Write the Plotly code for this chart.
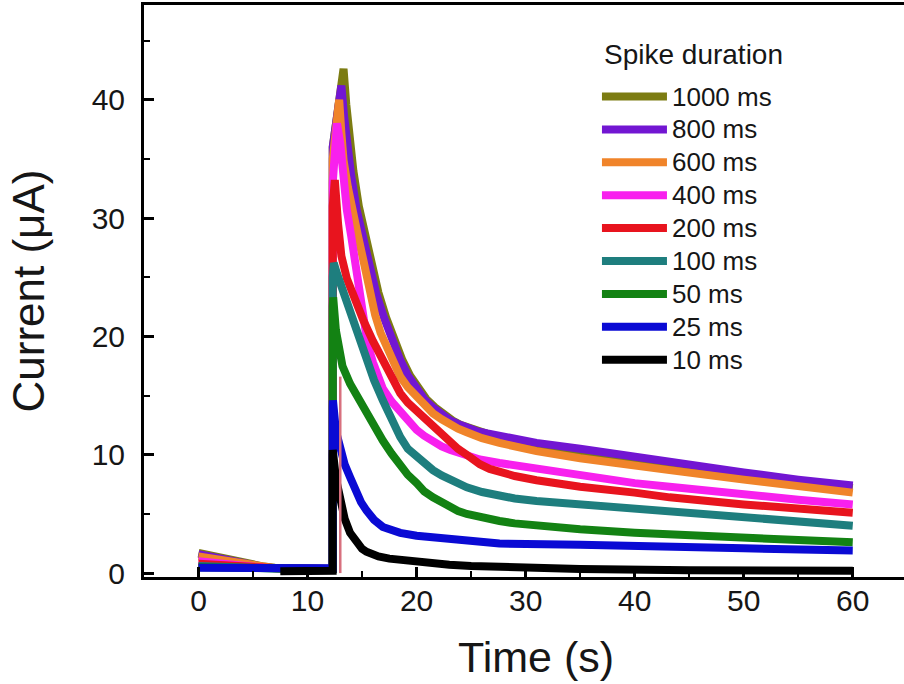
import plotly.graph_objects as go

# ---- data ----
labels = ["1000 ms", "800 ms", "600 ms", "400 ms", "200 ms", "100 ms", "50 ms", "25 ms", "10 ms"]
colors = ["#7c7c12", "#7216d2", "#f0842a", "#f820ee", "#e8141e", "#1e7e7e", "#138213", "#0a0ad4", "#000000"]

t_1000 = [0, 1, 2, 3, 4, 5, 6, 7, 8, 10, 12.3, 12.31, 13.3, 13.55, 13.8, 14.2, 14.7, 15.3, 15.9, 16.5, 17.2, 17.9, 18.7, 19.4, 20.2, 20.9, 21.7, 22.5, 23.3, 24.1, 25, 26.5, 28, 31, 35, 40, 45, 50, 55, 60]
i_1000 = [1.7, 1.5, 1.25, 1.05, 0.85, 0.7, 0.55, 0.45, 0.4, 0.35, 0.35, 36, 42.6, 39.6, 37.0, 34.0, 31.0, 28.3, 26.0, 23.7, 21.6, 19.7, 18.0, 16.7, 15.5, 14.7, 14.0, 13.4, 12.9, 12.5, 12.2, 11.7, 11.3, 10.8, 10.2, 9.5, 8.9, 8.3, 7.7, 7.2]

t_800 = [0, 1, 2, 3, 4, 5, 6, 7, 8, 10, 12.3, 12.31, 13.1, 13.35, 13.6, 14.0, 14.5, 15.1, 15.7, 16.3, 17.0, 17.7, 18.5, 19.2, 20.0, 20.7, 21.5, 22.3, 23.1, 23.8, 24.6, 25.5, 26.5, 28, 31, 35, 40, 45, 50, 55, 60]
i_800 = [1.6, 1.4, 1.2, 1.0, 0.8, 0.65, 0.5, 0.42, 0.38, 0.35, 0.35, 36, 41.2, 38.6, 36.3, 33.6, 30.7, 28.1, 25.9, 23.6, 21.6, 19.7, 18.0, 16.7, 15.5, 14.7, 14.0, 13.4, 12.9, 12.6, 12.3, 12.0, 11.8, 11.5, 11.0, 10.5, 9.8, 9.1, 8.5, 7.9, 7.4]

t_600 = [0, 1, 2, 3, 4, 5, 6, 7, 8, 10, 12.3, 12.31, 12.9, 13.1, 13.3, 13.7, 14.2, 14.6, 15.1, 15.6, 16.2, 16.7, 17.3, 17.9, 18.5, 19.2, 20, 20.7, 21.5, 22.3, 23, 23.8, 24.6, 25.3, 26, 27.6, 31, 35, 40, 43.2, 50, 55, 60]
i_600 = [1.4, 1.25, 1.05, 0.9, 0.75, 0.6, 0.5, 0.42, 0.38, 0.35, 0.35, 35, 40.0, 37.2, 34.9, 32.6, 30.7, 28.6, 26.5, 24.2, 21.8, 20.3, 19.0, 17.7, 16.6, 15.7, 14.9, 14.2, 13.5, 13.0, 12.6, 12.2, 11.9, 11.6, 11.4, 11.0, 10.3, 9.7, 9.0, 8.7, 7.9, 7.3, 6.8]

t_400 = [0, 2, 4, 6, 8, 10, 12.3, 12.31, 12.7, 13.0, 13.3, 13.6, 14.0, 14.3, 14.7, 15.1, 15.5, 16.0, 16.5, 16.9, 17.7, 18.5, 19.2, 20, 20.7, 21.5, 22.3, 23.1, 24.4, 25.8, 27.6, 31, 35, 40, 43.2, 50, 55, 60]
i_400 = [1.0, 0.8, 0.6, 0.45, 0.38, 0.35, 0.35, 33, 38.0, 36.3, 33.4, 30.7, 28.5, 26.5, 24.0, 21.6, 19.4, 17.8, 16.5, 15.6, 14.5, 13.6, 12.8, 12.1, 11.6, 11.1, 10.7, 10.4, 10.0, 9.6, 9.3, 8.8, 8.2, 7.6, 7.3, 6.6, 6.2, 5.8]

t_200 = [0, 2, 4, 6, 8, 10, 12.3, 12.31, 12.5, 12.8, 13.1, 13.6, 14.1, 14.6, 15.1, 16.0, 16.9, 17.7, 18.5, 19.2, 20, 20.7, 21.5, 22.3, 23.1, 23.8, 24.6, 25.3, 25.8, 26.7, 27.6, 29, 31, 35, 40, 43.2, 50, 55, 60]
i_200 = [0.8, 0.65, 0.5, 0.4, 0.36, 0.35, 0.35, 31, 33.2, 29.5, 26.8, 24.9, 23.6, 22.5, 21.4, 19.6, 18.0, 16.5, 15.2, 14.4, 13.7, 13.0, 12.3, 11.6, 11.0, 10.5, 10.0, 9.5, 9.2, 8.8, 8.5, 8.2, 7.85, 7.3, 6.8, 6.4, 5.8, 5.4, 5.1]

t_100 = [0, 2, 4, 6, 8, 10, 12.3, 12.31, 12.4, 12.7, 13.0, 13.3, 13.9, 14.5, 15.0, 15.4, 16.1, 16.9, 17.7, 18.5, 19.2, 20, 20.7, 21.5, 22.3, 23, 23.8, 24.6, 26, 27.6, 29, 31, 35, 40, 43.2, 50, 55, 60]
i_100 = [0.6, 0.5, 0.42, 0.38, 0.35, 0.35, 0.35, 25, 26.2, 25.3, 24.5, 23.6, 21.9, 20.3, 19.1, 18.0, 16.3, 14.6, 13.0, 11.5, 10.5, 9.8, 9.2, 8.7, 8.25, 7.9, 7.55, 7.25, 6.85, 6.5, 6.3, 6.1, 5.8, 5.4, 5.1, 4.7, 4.3, 4.0]

t_50 = [0, 2, 4, 6, 8, 10, 12.3, 12.31, 12.35, 12.6, 12.9, 13.2, 13.9, 14.6, 15.4, 16.1, 16.9, 17.7, 18.5, 19.2, 20, 20.7, 21.5, 22.3, 23, 23.8, 24.6, 25.8, 27.6, 29, 31, 35, 40, 43.2, 50, 55, 60]
i_50 = [0.5, 0.45, 0.4, 0.37, 0.35, 0.35, 0.35, 22.5, 23.3, 20.5, 18.6, 17.5, 16.0, 14.8, 13.6, 12.4, 11.2, 10.1, 9.1, 8.3, 7.6, 6.9, 6.4, 5.95, 5.6, 5.25, 5.0, 4.7, 4.4, 4.2, 4.0, 3.7, 3.4, 3.3, 3.0, 2.8, 2.6]

t_25 = [0, 2, 4, 6, 8, 10, 12.3, 12.31, 12.33, 12.6, 13.0, 13.4, 13.9, 14.4, 14.9, 15.4, 16.1, 16.9, 17.7, 18.5, 20, 21.5, 23.5, 25.8, 27.6, 35, 43.2, 50, 60]
i_25 = [0.45, 0.42, 0.4, 0.4, 0.4, 0.4, 0.4, 14.0, 14.6, 12.0, 10.4, 9.2, 8.1, 7.0, 6.0, 5.3, 4.5, 3.9, 3.6, 3.4, 3.15, 3.0, 2.8, 2.6, 2.5, 2.4, 2.3, 2.1, 1.9]

t_10 = [7.5, 9, 10, 11, 12.3, 12.301, 12.31, 12.6, 13.0, 13.4, 13.9, 14.5, 15.0, 15.4, 16.0, 16.5, 17.5, 18.5, 20, 21.5, 23, 25, 27.6, 31, 35, 45, 60]
i_10 = [0.15, 0.15, 0.15, 0.15, 0.2, 10.0, 10.4, 8.0, 6.2, 4.6, 3.4, 2.5, 2.05, 1.8, 1.55, 1.4, 1.22, 1.1, 0.95, 0.8, 0.7, 0.6, 0.5, 0.42, 0.35, 0.25, 0.2]

# thin trace visible at t ~ 13 s in the reference (no legend entry)
t_thin = [13.0, 13.0]
i_thin = [0.0, 16.6]

series_t = [t_1000, t_800, t_600, t_400, t_200, t_100, t_50, t_25, t_10]
series_i = [i_1000, i_800, i_600, i_400, i_200, i_100, i_50, i_25, i_10]

x_ticks = [0, 10, 20, 30, 40, 50, 60]
y_ticks = [0, 10, 20, 30, 40]

FONT = "Arial, 'Liberation Sans', sans-serif"
TXT = "#161616"

fig = go.Figure()
for lab, col, tt, ii in zip(labels, colors, series_t, series_i):
    fig.add_trace(go.Scatter(
        x=tt, y=ii, mode="lines",
        name='<span style="font-size:26px">' + lab + '</span>',
        line=dict(color=col, width=8)))

fig.add_trace(go.Scatter(x=t_thin, y=i_thin, mode="lines", showlegend=False,
                         line=dict(color="#d8707e", width=2.5), hoverinfo="skip"))

axis_common = dict(
    showgrid=False, zeroline=False, showline=True, linecolor="black", linewidth=3,
    ticks="inside", ticklen=10, tickwidth=2.5, tickcolor="black",
    tickfont=dict(family=FONT, size=30, color=TXT),
    minor=dict(ticks="inside", ticklen=6, tickwidth=2, tickcolor="black", dtick=5),
)

fig.update_layout(
    width=904, height=684,
    margin=dict(l=144, r=0, t=5, b=107),
    plot_bgcolor="white", paper_bgcolor="white",
    font=dict(family=FONT, color=TXT),
    xaxis=dict(range=[-5, 64.7], tickvals=x_ticks, mirror=True,
               ticklabelstandoff=-5, **axis_common),
    yaxis=dict(range=[-0.33, 48], tickvals=y_ticks, mirror=False,
               title=dict(text="Current (μA)", font=dict(family=FONT, size=44, color=TXT), standoff=34),
               ticklabelstandoff=10, **axis_common),
    legend=dict(x=0.596, y=0.8775, xanchor="left", yanchor="top",
                bgcolor="rgba(0,0,0,0)", borderwidth=0,
                font=dict(family=FONT, size=23, color=TXT),
                itemwidth=65, tracegroupgap=0),
    showlegend=True,
    annotations=[
        dict(text="Spike duration", xref="paper", yref="paper",
             x=(602 - 144) / 760, y=(577 - 55) / 572, xanchor="left", yanchor="middle",
             showarrow=False, font=dict(family=FONT, size=28, color=TXT)),
        dict(text="Time (s)", xref="paper", yref="paper",
             x=(536 - 144) / 760, y=(577 - 657) / 572, xanchor="center", yanchor="middle",
             showarrow=False, font=dict(family=FONT, size=43, color=TXT)),
    ],
)

fig.write_html("out.html")
